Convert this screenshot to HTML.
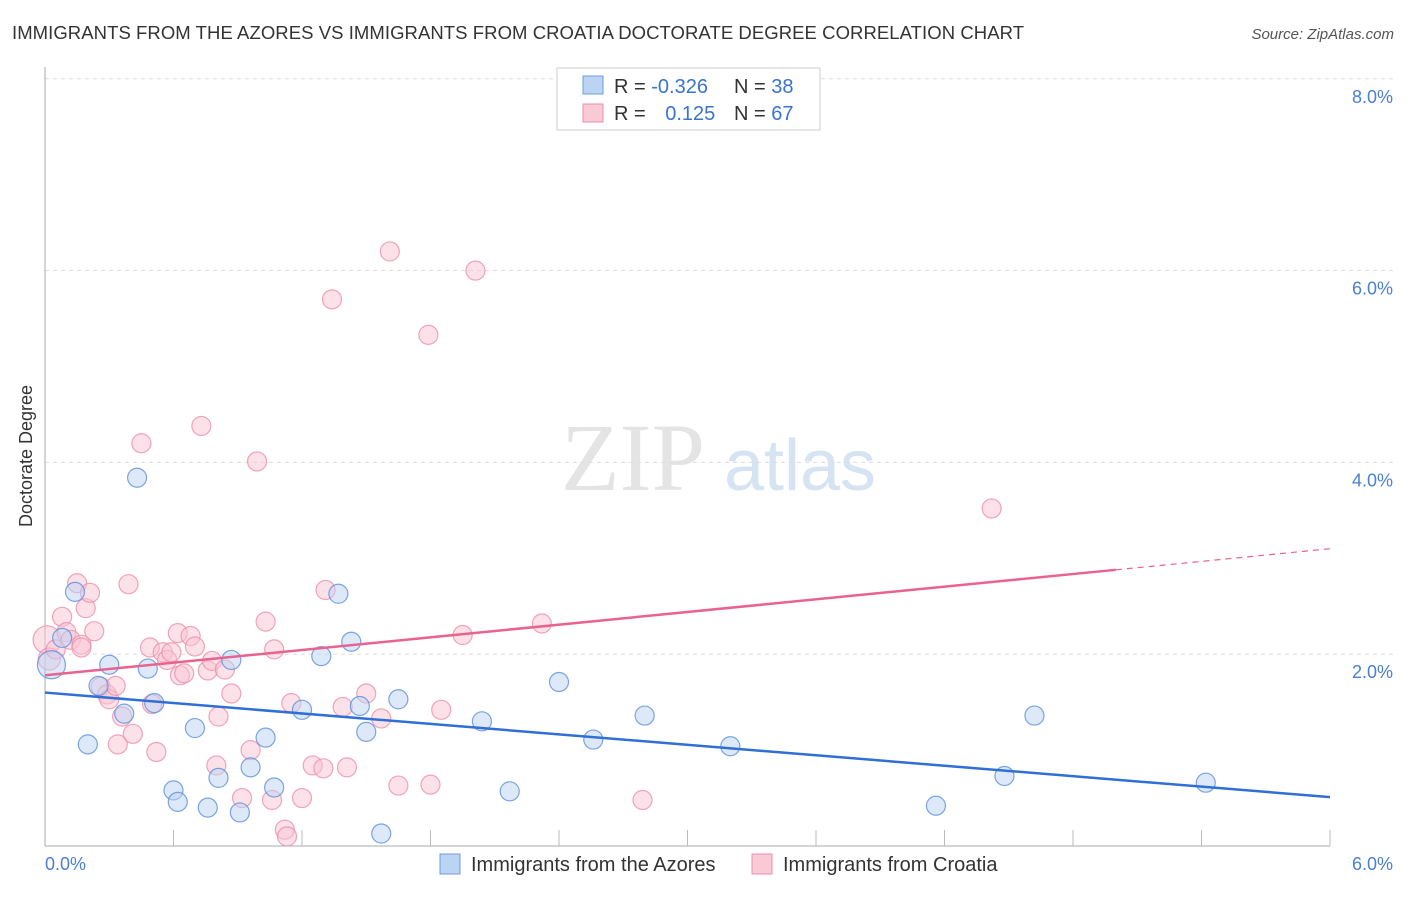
<!DOCTYPE html>
<html><head><meta charset="utf-8"><style>
body{margin:0;background:#fff;font-family:"Liberation Sans",sans-serif;}
</style></head><body>
<svg width="1406" height="892" xmlns="http://www.w3.org/2000/svg" font-family="Liberation Sans, sans-serif">
<text x="12" y="39" font-size="18.5" fill="#333" textLength="1012">IMMIGRANTS FROM THE AZORES VS IMMIGRANTS FROM CROATIA DOCTORATE DEGREE CORRELATION CHART</text>
<text x="1394" y="39" font-size="15" fill="#555" font-style="italic" text-anchor="end">Source: ZipAtlas.com</text>
<text x="633" y="490" font-size="96" fill="#e4e4e4" font-family="Liberation Serif, serif" text-anchor="middle">ZIP</text>
<text x="800" y="490" font-size="72" fill="#d5e3f3" text-anchor="middle">atlas</text>
<g id="grid"></g>
<g id="axes"></g>
<g id="pts"></g>
<g id="lines"></g>
<text x="32" y="456" font-size="18" fill="#333" text-anchor="middle" transform="rotate(-90 32 456)">Doctorate Degree</text>
<text x="45" y="870" font-size="18" fill="#4a7fd4">0.0%</text>
<text x="1393" y="870" font-size="18" fill="#4a7fd4" text-anchor="end">6.0%</text>
<g>
<rect x="557" y="68" width="263" height="62" fill="#fff" stroke="#ccc"/>
<rect x="583" y="76" width="20" height="18" fill="#bcd4f4" stroke="#6b9de0"/>
<rect x="583" y="104" width="20" height="18" fill="#f9c9d6" stroke="#ec8fac"/>
<text x="614" y="93" font-size="20" fill="#333">R = <tspan fill="#3a74d0">-0.326</tspan></text>
<text x="734" y="93" font-size="20" fill="#333">N = <tspan fill="#3a74d0">38</tspan></text>
<text x="614" y="120" font-size="20" fill="#333">R = <tspan fill="#3a74d0" dx="14">0.125</tspan></text>
<text x="734" y="120" font-size="20" fill="#333">N = <tspan fill="#3a74d0">67</tspan></text>
</g>
<g>
<rect x="440" y="854" width="20" height="20" fill="#bcd4f4" stroke="#6b9de0"/>
<text x="471" y="871" font-size="20" fill="#333">Immigrants from the Azores</text>
<rect x="752" y="854" width="20" height="20" fill="#f9c9d6" stroke="#ec8fac"/>
<text x="783" y="871" font-size="20" fill="#333">Immigrants from Croatia</text>
</g>
</svg>
<script>
const yTicks=[2,4,6,8];
const yTickLabels=["2.0%","4.0%","6.0%","8.0%"];
const blueX=[0.03,0.14,0.08,0.30,0.20,0.25,0.37,0.43,0.48,0.51,0.60,0.62,0.70,0.76,0.81,0.87,0.91,0.96,1.03,1.07,1.20,1.29,1.37,1.43,1.47,1.50,1.57,1.65,2.04,2.17,2.40,2.56,2.80,3.20,4.16,4.48,4.62,5.42];
const blueY=[1.89,2.65,2.17,1.89,1.06,1.67,1.38,3.84,1.85,1.49,0.58,0.46,1.23,0.40,0.71,1.94,0.35,0.82,1.13,0.61,1.42,1.98,2.63,2.13,1.46,1.19,0.13,1.53,1.30,0.57,1.71,1.11,1.36,1.04,0.42,0.73,1.36,0.66];
const pinkX=[0.01,0.02,0.05,0.08,0.10,0.15,0.12,0.17,0.19,0.21,0.23,0.17,0.26,0.29,0.30,0.33,0.34,0.36,0.39,0.41,0.45,0.49,0.50,0.52,0.55,0.57,0.59,0.62,0.63,0.65,0.68,0.70,0.73,0.76,0.78,0.81,0.80,0.84,0.87,0.92,0.96,0.99,1.03,1.06,1.07,1.12,1.13,1.15,1.20,1.25,1.30,1.31,1.34,1.39,1.41,1.50,1.57,1.61,1.65,1.79,1.80,1.85,1.95,2.01,2.32,2.79,4.42];
const pinkY=[2.15,1.95,2.05,2.39,2.23,2.74,2.15,2.10,2.48,2.64,2.24,2.07,1.66,1.58,1.53,1.67,1.06,1.35,2.73,1.17,4.20,2.07,1.48,0.98,2.02,1.94,2.02,2.22,1.78,1.80,2.19,2.08,4.38,1.83,1.93,1.35,0.84,1.84,1.59,0.50,1.00,4.01,2.34,0.48,2.05,0.17,0.10,1.49,0.50,0.84,0.81,2.67,5.70,1.45,0.82,1.59,1.33,6.20,0.63,5.33,0.64,1.42,2.20,6.00,2.32,0.48,3.52];
const blueTrend=[1.60,0.51];
const pinkTrend=[1.78,2.88,3.10];
const X0=45,X1=1330,Y0=846,PX=95.9;
const sx=v=>X0+(v/6)*(X1-X0), sy=v=>Y0-v*PX;
const NS="http://www.w3.org/2000/svg";
function mk(t,a,p){const e=document.createElementNS(NS,t);for(const k in a)e.setAttribute(k,a[k]);p.appendChild(e);return e;}
const grid=document.getElementById('grid'),axes=document.getElementById('axes'),pts=document.getElementById('pts'),lines=document.getElementById('lines');
yTicks.forEach((t,i)=>{
const l=mk('line',{x1:X0,x2:1393,y1:sy(t),y2:sy(t),stroke:'#ddd','stroke-dasharray':'4 4'},grid);


const tx=mk('text',{x:1393,y:sy(t)+24,'font-size':18,fill:'#4a7fd4','text-anchor':'end'},grid);
tx.textContent=yTickLabels[i];


});
const ya=mk('line',{x1:X0,x2:X0,y1:67,y2:Y0,stroke:'#aaa'},axes);


const xa=mk('line',{x1:X0,x2:X1,y1:Y0,y2:Y0,stroke:'#aaa'},axes);


for(let i=1;i<=10;i++){const x=sx(i*0.6);
const tk=mk('line',{x1:x,x2:x,y1:830,y2:Y0,stroke:'#bbb'},axes);

}
function dots(xs,ys,fill,stroke,name){xs.forEach((x,i)=>{
const r=(x<0.05)?(i===0?14:11):9.5;
const c=mk('circle',{cx:sx(x),cy:sy(ys[i]),r:r,fill:fill,'fill-opacity':0.5,stroke:stroke,'stroke-width':1.2,'stroke-opacity':0.8},pts);

});}
dots(pinkX,pinkY,'#f9c3d3','#ec8fac','croatia-point');
dots(blueX,blueY,'#bcd4f4','#5b8fdc','azores-point');
const bl=mk('line',{x1:sx(0),y1:sy(blueTrend[0]),x2:sx(6),y2:sy(blueTrend[1]),stroke:'#2f6fd6','stroke-width':2.5},lines);


const pl=mk('line',{x1:sx(0),y1:sy(pinkTrend[0]),x2:sx(5),y2:sy(pinkTrend[1]),stroke:'#e8638d','stroke-width':2.5},lines);


const pd=mk('line',{x1:sx(5),y1:sy(pinkTrend[1]),x2:sx(6),y2:sy(pinkTrend[2]),stroke:'#e8638d','stroke-width':1.2,'stroke-dasharray':'6 5'},lines);


</script>
</body></html>
